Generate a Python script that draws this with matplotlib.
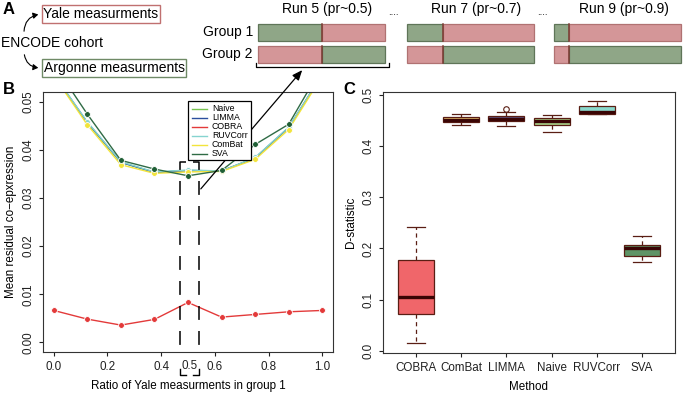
import numpy as np
import matplotlib
matplotlib.use('Agg')
from matplotlib import pyplot as plt
from matplotlib.patches import Rectangle, FancyArrowPatch

plt.rcParams['font.family'] = ['Liberation Sans', 'DejaVu Sans']
plt.rcParams['lines.scale_dashes'] = False

# Panel A data
runs = ['Run 5 (pr~0.5)', 'Run 7 (pr~0.7)', 'Run 9 (pr~0.9)']
yale_frac = [0.5, 0.72, 0.88]

# Panel B data
ratio = [0.0, 0.125, 0.25, 0.375, 0.5, 0.625, 0.75, 0.875, 1.0]
methods_b = ['Naive', 'LIMMA', 'COBRA', 'RUVCorr', 'ComBat', 'SVA']
naive = [0.0556, 0.0456, 0.0374, 0.0353, 0.0357, 0.0356, 0.0383, 0.0446, 0.0556]
limma = [0.0556, 0.0457, 0.0374, 0.0353, 0.0357, 0.0356, 0.0383, 0.0446, 0.0557]
cobra = [0.00663, 0.00483, 0.00359, 0.00477, 0.00829, 0.00525, 0.0058, 0.00635, 0.00663]
ruvcorr = [0.0557, 0.0458, 0.0375, 0.0354, 0.0358, 0.0356, 0.0384, 0.0447, 0.0557]
combat = [0.0554, 0.0452, 0.0369, 0.0351, 0.0354, 0.0355, 0.0380, 0.0442, 0.0553]
sva = [0.0578, 0.0474, 0.0378, 0.0360, 0.0346, 0.0357, 0.0411, 0.0453, 0.0573]
colors_b = ['#77c34f', '#2b4f9e', '#e33a3a', '#86d4d0', '#f2e43c', '#2f6b45']

# Panel C data (box stats)
methods_c = ['COBRA', 'ComBat', 'LIMMA', 'Naive', 'RUVCorr', 'SVA']
wlo = [0.0149, 0.4416, 0.4400, 0.4286, 0.4632, 0.1740]
q1 = [0.0714, 0.4480, 0.4500, 0.4416, 0.4636, 0.1857]
med = [0.1060, 0.4520, 0.4530, 0.4500, 0.4675, 0.2000]
q3 = [0.1770, 0.4570, 0.4600, 0.4550, 0.4780, 0.2065]
whi = [0.2420, 0.4630, 0.4675, 0.4610, 0.4877, 0.2240]
outliers = [[], [], [0.4727], [], [], []]
colors_c = ['#f0666a', '#e8c070', '#605888', '#a8d088', '#8ad8cc', '#5e9466']

W, H = 683, 395
fig = plt.figure(figsize=(W / 100, H / 100), dpi=100)

def px_axes(l, t, r, b):
    return fig.add_axes([l / W, 1 - b / H, (r - l) / W, (b - t) / H])

def r_style(ax):
    for s in ax.spines.values():
        s.set_linewidth(0.8)
        s.set_color('#333333')
    ax.tick_params(direction='out', length=3, width=0.8, labelsize=8.4, colors='#222222')
    ax.tick_params(axis='y', labelrotation=90, pad=3)
    for lab in ax.get_yticklabels():
        lab.set_va('center')

# ---- Panel B ----
axb = px_axes(43, 92, 333, 352)
series = [naive, limma, cobra, ruvcorr, combat, sva]
for name, vals, col in zip(methods_b, series, colors_b):
    mfc = '#1f5f35' if name == 'SVA' else col
    axb.plot(ratio, vals, color=col, lw=1.0, marker='o', ms=4.2, mfc=mfc,
             mec='white', mew=0.6)
axb.set_xlim(-0.04, 1.04)
axb.set_ylim(-0.002, 0.052)
axb.set_xticks([0.0, 0.2, 0.4, 0.6, 0.8, 1.0])
axb.set_xticklabels(['0.0', '0.2', '0.4', '0.6', '0.8', '1.0'])
axb.set_yticks([0.0, 0.01, 0.02, 0.03, 0.04, 0.05])
axb.set_yticklabels(['0.00', '0.01', '0.02', '0.03', '0.04', '0.05'])
axb.set_xlabel('Ratio of Yale measurments in group 1', fontsize=8.4, labelpad=5)
axb.set_ylabel('Mean residual co\u2212epxression', fontsize=8.4, labelpad=4)
r_style(axb)

# ---- Panel C ----
axc = px_axes(383, 92, 675, 353)
stats = []
for i in range(len(methods_c)):
    stats.append({'med': med[i], 'q1': q1[i], 'q3': q3[i], 'whislo': wlo[i],
                  'whishi': whi[i], 'fliers': outliers[i], 'label': methods_c[i]})
bp = axc.bxp(stats, positions=range(1, 7), widths=0.8, capwidths=0.4, patch_artist=True,
             boxprops=dict(edgecolor='#5a1e14', linewidth=0.9),
             medianprops=dict(color='#3a0505', linewidth=2.4),
             whiskerprops=dict(color='#5a1e14', linewidth=0.9, dashes=(3, 2.5)),
             capprops=dict(color='#5a1e14', linewidth=0.9),
             flierprops=dict(marker='o', mfc='none', mec='#5a1e14', ms=4, mew=0.8))
for patch, col in zip(bp['boxes'], colors_c):
    patch.set_facecolor(col)
axc.set_xlim(0.26, 6.74)
axc.set_ylim(-0.0045, 0.506)
axc.set_yticks([0.0, 0.1, 0.2, 0.3, 0.4, 0.5])
axc.set_yticklabels(['0.0', '0.1', '0.2', '0.3', '0.4', '0.5'])
axc.set_xlabel('Method', fontsize=8.4, labelpad=5)
axc.set_ylabel('D-statistic', fontsize=8.4, labelpad=4)
r_style(axc)

# ---- Overlay in pixel coords (panel A and annotations) ----
ov = fig.add_axes([0, 0, 1, 1], zorder=10)
ov.set_xlim(0, W)
ov.set_ylim(H, 0)
ov.axis('off')
ov.patch.set_alpha(0)

for lab, x, y in [('A', 9, 10), ('B', 9, 90), ('C', 349, 90)]:
    ov.text(x, y, lab, fontsize=12, fontweight='bold', ha='center', va='center')

green, green_e = '#8fa687', '#5f7558'
pink, pink_e = '#d49698', '#b07272'

ov.text(101, 14, 'Yale measurments', fontsize=10, ha='center', va='center',
        bbox=dict(boxstyle='square,pad=0.12', fc='white', ec='#c07070', lw=1))
ov.text(114, 68, 'Argonne measurments', fontsize=10, ha='center', va='center',
        bbox=dict(boxstyle='square,pad=0.12', fc='white', ec='#6f8a66', lw=1))
ov.text(1, 43, 'ENCODE cohort', fontsize=10, ha='left', va='center')
ov.add_patch(FancyArrowPatch((24, 34), (41, 14), connectionstyle='arc3,rad=-0.45',
                             arrowstyle='-|>,head_length=3,head_width=1.8', color='black', lw=0.8))
ov.add_patch(FancyArrowPatch((24, 52), (41, 68), connectionstyle='arc3,rad=0.45',
                             arrowstyle='-|>,head_length=3,head_width=1.8', color='black', lw=0.8))

ov.text(253, 32, 'Group 1', fontsize=10, ha='right', va='center')
ov.text(253, 54, 'Group 2', fontsize=10, ha='right', va='center')

bar_x = [258, 407, 554]
bar_w = 127
for run, frac, x0 in zip(runs, yale_frac, bar_x):
    split = x0 + bar_w * (1 - frac)
    # group 1: green (Argonne) then pink (Yale); group 2 reversed
    ov.add_patch(Rectangle((x0, 24), split - x0, 17, fc=green, ec=green_e, lw=0.9))
    ov.add_patch(Rectangle((split, 24), x0 + bar_w - split, 17, fc=pink, ec=pink_e, lw=0.9))
    ov.add_patch(Rectangle((x0, 46), split - x0, 17, fc=pink, ec=pink_e, lw=0.9))
    ov.add_patch(Rectangle((split, 46), x0 + bar_w - split, 17, fc=green, ec=green_e, lw=0.9))
    ov.plot([split, split], [24, 41], color='#7a3a32', lw=1.1)
    ov.plot([split, split], [46, 63], color='#7a3a32', lw=1.1)
    ov.text(x0 + bar_w / 2 + 6, 9, run, fontsize=10, ha='center', va='center')
for x in [393, 542]:
    ov.text(x, 12, '....', fontsize=7, ha='center', va='center')

# bracket under run 5 and arrow from panel B
ov.plot([256, 256, 389, 389], [63, 67, 67, 63], color='black', lw=0.9)
ov.add_patch(FancyArrowPatch((199, 191), (304, 68),
                             arrowstyle='-|>,head_length=6,head_width=2.5', color='black', lw=0.9))

# dashed zoom box in panel B
ov.plot([186, 180, 180], [162, 162, 352], color='black', lw=1.1, dashes=(10, 8))
ov.plot([193, 199, 199], [162, 162, 352], color='black', lw=1.1, dashes=(10, 8))
ov.plot([180, 180, 186], [369, 375, 375], color='black', lw=1.0)
ov.plot([199, 199, 193], [369, 375, 375], color='black', lw=1.0)
ov.text(189.5, 366, '0.5', fontsize=8.4, ha='center', va='center', color='#222222')

# legend in panel B
ov.add_patch(Rectangle((188, 101), 63, 59, fc='white', ec='black', lw=0.9))
for i, (name, col) in enumerate(zip(methods_b, colors_b)):
    y = 108.5 + i * 9
    ov.plot([192, 207], [y, y], color=col, lw=1.0)
    ov.text(212, y, name, fontsize=6.3, ha='left', va='center')

fig.savefig('out.png', dpi=100)
